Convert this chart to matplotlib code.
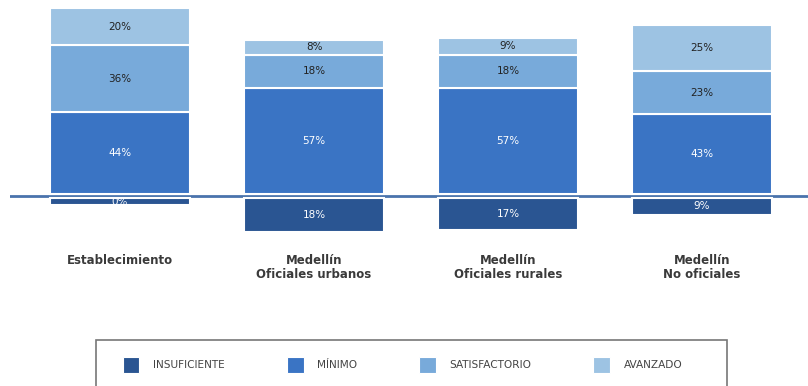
import matplotlib.pyplot as plt
from matplotlib.patches import Rectangle

# Distribución por niveles de desempeño
categorias = ["Establecimiento", "Medellín\nOficiales urbanos", "Medellín\nOficiales rurales", "Medellín\nNo oficiales"]
niveles = ["INSUFICIENTE", "MÍNIMO", "SATISFACTORIO", "AVANZADO"]
insuficiente = [0, 18, 17, 9]
minimo = [44, 57, 57, 43]
satisfactorio = [36, 18, 18, 23]
avanzado = [20, 8, 9, 25]

colores = ["#2A5592", "#3A74C4", "#78AADA", "#9DC3E3"]
color_texto = ["white", "white", "#222222", "#222222"]
altura_min = 4  # para que la barra de 0% se vea

fig = plt.figure(figsize=(8.08, 3.86), dpi=100)
ax = fig.add_axes([10 / 808, 0.352, 798 / 808, 0.648])

x = list(range(len(categorias)))
ancho = 0.72

# línea del cero
ax.axhline(0, color="#4A73AC", lw=2, zorder=1)

# barras negativas (insuficiente)
alt_ins = [-max(v, altura_min) for v in insuficiente]
barras = ax.bar(x, alt_ins, ancho, bottom=-1, color=colores[0], edgecolor="white", lw=1.5, zorder=2)
for b, v in zip(barras, insuficiente):
    ax.text(b.get_x() + b.get_width() / 2, b.get_y() + b.get_height() / 2, f"{v}%",
            ha="center", va="center", color=color_texto[0], fontsize=7.5, zorder=3)

# barras positivas apiladas
base = [1] * len(x)
for i, serie in enumerate([minimo, satisfactorio, avanzado], start=1):
    barras = ax.bar(x, serie, ancho, bottom=base, color=colores[i], edgecolor="white", lw=1.5, zorder=2)
    for b, v in zip(barras, serie):
        ax.text(b.get_x() + b.get_width() / 2, b.get_y() + b.get_height() / 2, f"{v}%",
                ha="center", va="center", color=color_texto[i], fontsize=7.5, zorder=3)
    base = [a + v for a, v in zip(base, serie)]

ax.set_xlim(-0.567, 3.546)
ax.set_ylim(-29, 105.4)
ax.axis("off")

# etiquetas de categorías
for xi, cat in zip(x, categorias):
    ax.text(xi, -31, cat, ha="center", va="top", fontsize=8.5, color="#3a3a3a",
            fontweight="semibold", linespacing=1.1)

# leyenda
handles = [Rectangle((0, 0), 1, 1, facecolor=c, edgecolor="white", lw=0.8) for c in colores]
fig.legend(handles, niveles, loc="center left", bbox_to_anchor=(113 / 808, 1 - 365 / 386),
           ncol=4, frameon=False, handlelength=1.6, handleheight=1.9, handletextpad=1.25,
           columnspacing=5.9, prop={"size": 7.6}, labelcolor="#444444")
fig.patches.append(Rectangle((96 / 808, -0.05), 631 / 808, 0.05 + 1 - 340 / 386,
                             transform=fig.transFigure, fill=False, edgecolor="#777777", lw=1.2))

fig.savefig("out.png", dpi=100)
